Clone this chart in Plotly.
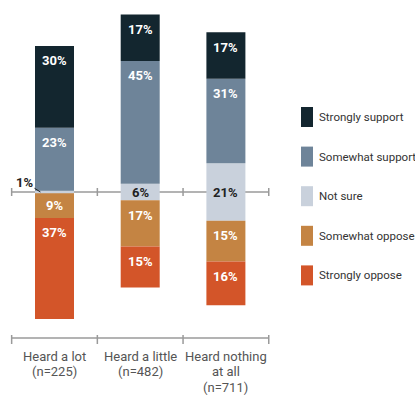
import plotly.graph_objects as go

# Survey responses by level of awareness (percent of respondents)
category_lines = [
    ["Heard a lot", "(n=225)"],
    ["Heard a little", "(n=482)"],
    ["Heard nothing", "at all", "(n=711)"],
]
series_names = ["Strongly support", "Somewhat support", "Not sure",
                "Somewhat oppose", "Strongly oppose"]
strongly_support = [30, 17, 17]
somewhat_support = [23, 45, 31]
not_sure = [1, 6, 21]
somewhat_oppose = [9, 17, 15]
strongly_oppose = [37, 15, 16]

colors = {
    "Strongly support": "#13262f",
    "Somewhat support": "#6e8499",
    "Not sure": "#c9d1dc",
    "Somewhat oppose": "#c48443",
    "Strongly oppose": "#d35529",
}

FONT = "Roboto, Arial, sans-serif"
W, H = 415, 395
PLOT_H = 350            # plot area height in px (rest is bottom margin)
BASE_PX = 192           # pixel row of the zero line
K = 2.73                # px per percentage point
X0, STEP = 54.5, 85.7   # first category centre and spacing, px
BAR_W = 39 / STEP


def xd(px):
    return (px - X0) / STEP


def yd(py):
    return (BASE_PX - py) / K


n = len(category_lines)
xs = list(range(n))
half_ns = [v / 2 for v in not_sure]

fig = go.Figure()

# Diverging stack: "Not sure" is split evenly across the zero line
stack = [
    ("Not sure", half_ns, 1),
    ("Somewhat support", somewhat_support, 1),
    ("Strongly support", strongly_support, 1),
    ("Not sure", half_ns, -1),
    ("Somewhat oppose", somewhat_oppose, -1),
    ("Strongly oppose", strongly_oppose, -1),
]
for name, vals, sign in stack:
    fig.add_trace(go.Bar(
        x=xs, y=[sign * v for v in vals], width=BAR_W,
        marker=dict(color=colors[name], line=dict(width=0)),
        name=name, showlegend=False, hoverinfo="skip",
    ))

annotations = []
label_off = 15 / K
white_font = dict(family=FONT, size=13, color="white")
dark_font = dict(family=FONT, size=13, color="#222222")

for i in xs:
    # upper segments
    base = half_ns[i]
    for vals in (somewhat_support, strongly_support):
        h = vals[i]
        top = base + h
        annotations.append(dict(
            x=i, y=top - min(label_off, h / 2), text=f"<b>{h}%</b>",
            showarrow=False, font=white_font, xref="x", yref="y"))
        base = top
    # lower segments
    base = half_ns[i]
    for vals in (somewhat_oppose, strongly_oppose):
        h = vals[i]
        annotations.append(dict(
            x=i, y=-(base + min(label_off, h / 2)), text=f"<b>{h}%</b>",
            showarrow=False, font=white_font, xref="x", yref="y"))
        base += h
    # neutral share, centred on the zero line
    v = not_sure[i]
    if v >= 3:
        annotations.append(dict(
            x=i, y=0, text=f"<b>{v}%</b>", showarrow=False,
            font=dark_font, xref="x", yref="y"))
    else:
        annotations.append(dict(
            x=i - BAR_W * 0.36, y=0, text=f"<b>{v}%</b>", showarrow=True,
            arrowhead=0, arrowwidth=1, arrowcolor="#222222",
            ax=-16, ay=-10, font=dark_font, xref="x", yref="y"))

# category labels under the lower rule
for i, lines in enumerate(category_lines):
    for j, line in enumerate(lines):
        annotations.append(dict(
            x=i, y=yd(338), text=line, showarrow=False, xref="x", yref="y",
            yanchor="middle", yshift=-(18 + 15.5 * j),
            font=dict(family=FONT, size=13, color="#555555")))

shapes = []
rule = dict(color="#9a9a9a", width=1.5)
for y_px, up, down in ((BASE_PX, 4, 4), (338, 3, 6)):
    shapes.append(dict(type="line", x0=-0.5, x1=n - 0.5, y0=yd(y_px),
                       y1=yd(y_px), xref="x", yref="y", line=rule,
                       layer="below"))
    for b in range(n + 1):
        shapes.append(dict(type="line", x0=b - 0.5, x1=b - 0.5,
                           y0=yd(y_px - up), y1=yd(y_px + down),
                           xref="x", yref="y", line=rule, layer="below"))

# legend swatches
for k, name in enumerate(series_names):
    cy = 117 + 39.6 * k
    shapes.append(dict(type="rect", x0=xd(301), x1=xd(313),
                       y0=yd(cy + 10), y1=yd(cy - 10), xref="x", yref="y",
                       fillcolor=colors[name], line=dict(width=0)))
    annotations.append(dict(
        x=xd(317), y=yd(cy), text=name, showarrow=False, xanchor="left",
        yanchor="middle", xref="x", yref="y",
        font=dict(family=FONT, size=11.5, color="#333333")))

fig.update_layout(
    barmode="relative",
    width=W, height=H,
    margin=dict(l=0, r=0, t=0, b=H - PLOT_H),
    paper_bgcolor="white", plot_bgcolor="white",
    xaxis=dict(range=[xd(0), xd(W)], visible=False, fixedrange=True),
    yaxis=dict(range=[yd(PLOT_H), yd(0)], visible=False, fixedrange=True),
    annotations=annotations, shapes=shapes,
    showlegend=False,
)

fig.write_html("out.html")
